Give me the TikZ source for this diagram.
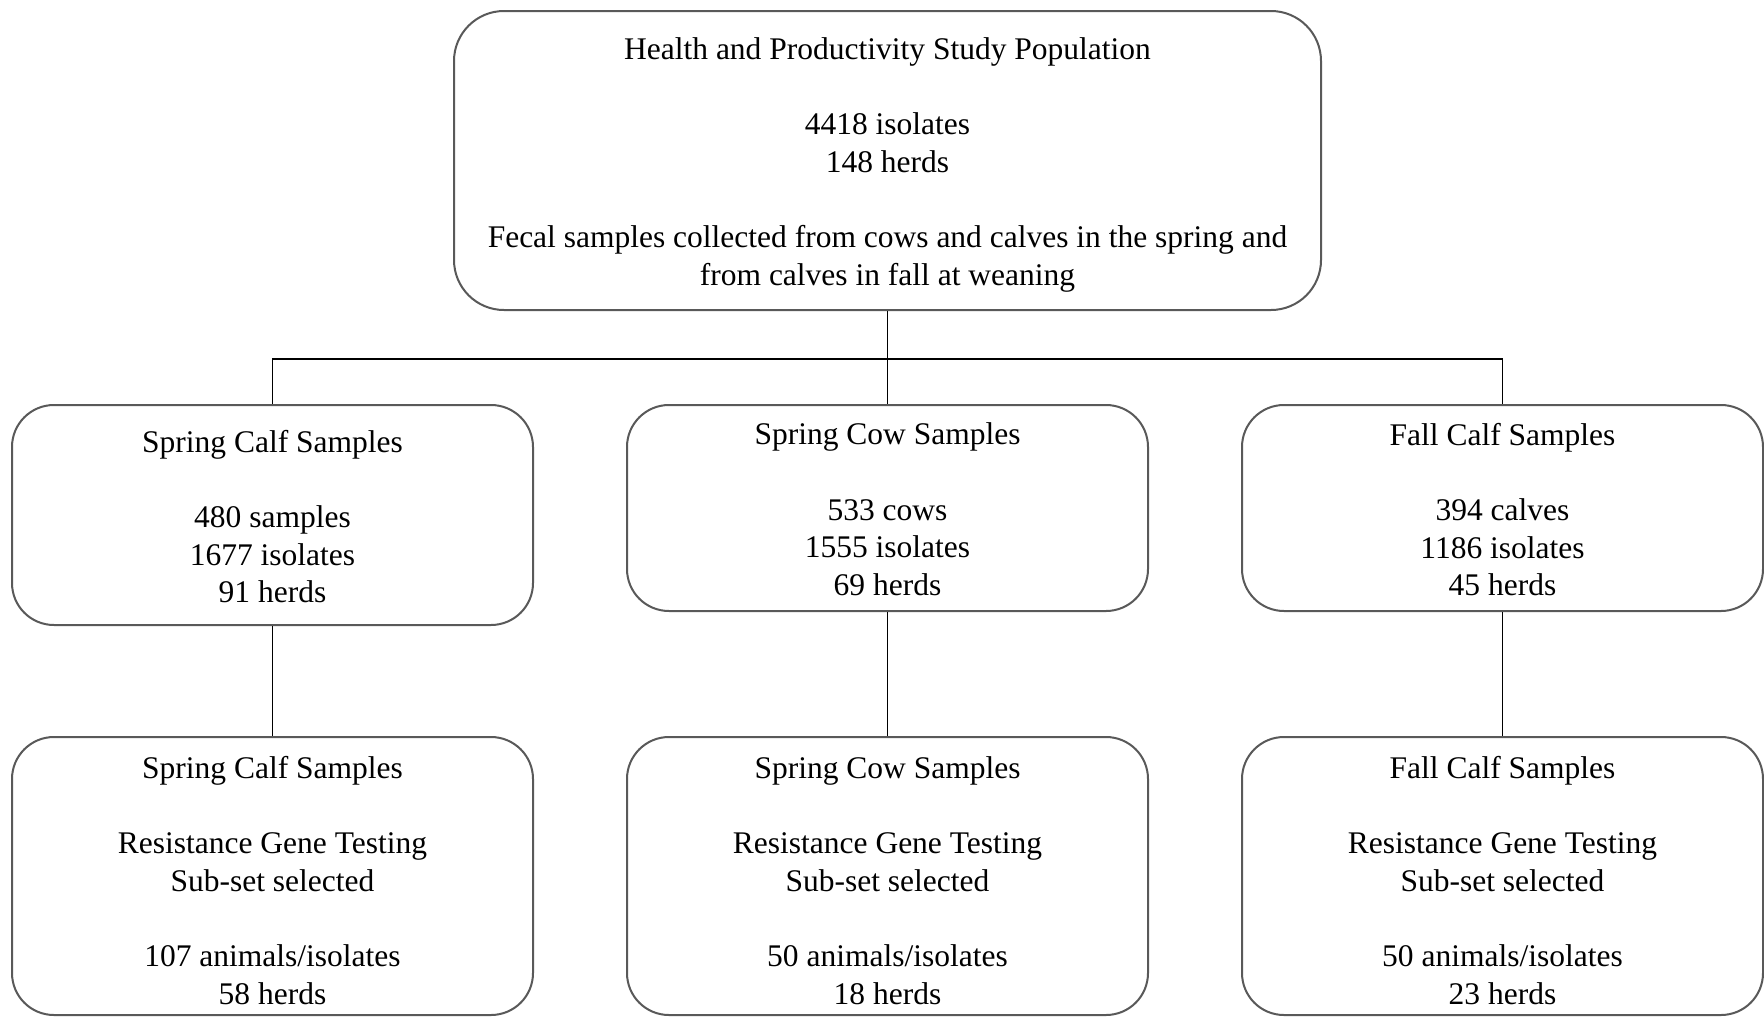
\documentclass[tikz,border=0pt]{standalone}
\usepackage{fontspec}
\setmainfont{Liberation Serif}
\begin{document}
\begin{tikzpicture}[x=1pt,y=-1pt,
  box/.style={draw=black!65,line width=2pt,fill=white,rounded corners=42pt,
    inner sep=0pt,minimum width=521pt},
  txt/.style={align=center,inner sep=0pt,yshift=-4.5pt,
    font=\fontsize{31.5}{37.7}\selectfont},
  link/.style={draw=black,line width=1.6pt}]
\useasboundingbox (0,0) rectangle (1764,1018);
\fill[white] (0,0) rectangle (1764,1018);

% study population
\node[box,minimum width=867pt,minimum height=299pt,rounded corners=50pt] (top) at (887.5,160.5) {};
\node[txt] (toptxt) at (top.center)
  {Health and Productivity Study Population\\[37.7pt]
   4418 isolates\\ 148 herds\\[37.7pt]
   Fecal samples collected from cows and calves in the spring and\\
   from calves in fall at weaning};

% sample groups
\node[box,minimum height=220pt] (ml) at (272.5,515) {};
\node[txt,yshift=3pt] (mltxt) at (ml.center)
  {Spring Calf Samples\\[37.7pt] 480 samples\\ 1677 isolates\\ 91 herds};
\node[box,minimum height=206pt] (mc) at (887.5,508) {};
\node[txt,yshift=3pt] (mctxt) at (mc.center)
  {Spring Cow Samples\\[37.7pt] 533 cows\\ 1555 isolates\\ 69 herds};
\node[box,minimum height=206pt] (mr) at (1502.5,508) {};
\node[txt,yshift=3pt] (mrtxt) at (mr.center)
  {Fall Calf Samples\\[37.7pt] 394 calves\\ 1186 isolates\\ 45 herds};

% resistance gene testing subsets
\node[box,minimum height=278pt] (bl) at (272.5,876) {};
\node[txt] (bltxt) at (bl.center)
  {Spring Calf Samples\\[37.7pt] Resistance Gene Testing\\ Sub-set selected\\[37.7pt]
   107 animals/isolates\\ 58 herds};
\node[box,minimum height=278pt] (bc) at (887.5,876) {};
\node[txt] (bctxt) at (bc.center)
  {Spring Cow Samples\\[37.7pt] Resistance Gene Testing\\ Sub-set selected\\[37.7pt]
   50 animals/isolates\\ 18 herds};
\node[box,minimum height=278pt] (br) at (1502.5,876) {};
\node[txt] (brtxt) at (br.center)
  {Fall Calf Samples\\[37.7pt] Resistance Gene Testing\\ Sub-set selected\\[37.7pt]
   50 animals/isolates\\ 23 herds};

% connectors
\coordinate (bus) at (887.5,359);
\draw[link] (top.south) -- (mc.north);
\draw[link] (ml.north) |- (bus) -| (mr.north);
\draw[link] (ml.south) -- (bl.north);
\draw[link] (mc.south) -- (bc.north);
\draw[link] (mr.south) -- (br.north);
\end{tikzpicture}
\end{document}
